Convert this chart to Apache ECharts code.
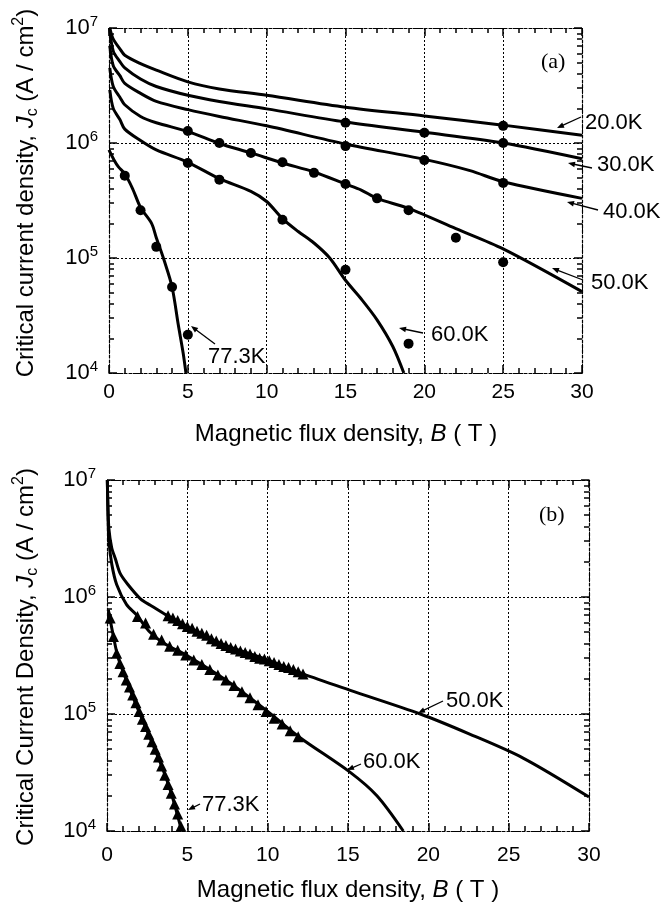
<!DOCTYPE html>
<html>
<head>
<meta charset="utf-8">
<script src="https://cdn.jsdelivr.net/npm/echarts@6/dist/echarts.min.js"></script>
<style>
  html, body { margin: 0; padding: 0; background: #fff; }
  #chart { width: 666px; height: 913px; }
</style>
</head>
<body>
<div id="chart"></div>
<script>
// axis ranges
const xMin = 0, xMax = 30, xStep = 5;
const yMin = 1e4, yMax = 1e7;

// panel (a): fitted curves, [B (T), Jc (A/cm2)]
const a20 = [[0.05, 1e7], [0.27, 8.0e6], [0.69, 6.6e6], [1, 5.8e6], [2, 4.9e6], [3, 4.3e6], [5, 3.4e6], [7, 2.95e6],
             [10, 2.6e6], [15, 2.05e6], [20, 1.72e6], [25, 1.43e6], [30, 1.17e6]];
const a30 = [[0.03, 1e7], [0.27, 6.3e6], [0.69, 5.1e6], [1, 4.5e6], [2, 3.6e6], [3, 3.1e6], [5, 2.6e6], [7, 2.3e6],
             [10, 1.98e6], [15, 1.52e6], [20, 1.24e6], [25, 1.0e6], [30, 7.3e5]];
const a40 = [[0.05, 7e6], [0.27, 4.7e6], [0.69, 3.85e6], [1, 3.3e6], [2, 2.7e6], [3, 2.3e6], [5, 1.95e6], [7, 1.7e6],
             [10, 1.41e6], [15, 9.8e5], [20, 7.2e5], [22.9, 5.75e5], [25, 4.6e5], [30, 3.3e5]];
const a50 = [[0.05, 4.5e6], [0.27, 3.1e6], [0.69, 2.5e6], [1, 2.15e6], [2, 1.7e6], [3, 1.5e6], [5, 1.26e6], [7, 9.9e5],
             [9, 8.2e5], [11, 6.7e5], [13, 5.6e5], [15, 4.4e5], [16, 3.9e5], [17, 3.3e5], [19, 2.7e5], [22, 1.8e5],
             [25, 1.2e5], [30, 5.1e4]];
const a60 = [[0.05, 2.9e6], [0.27, 2.0e6], [0.69, 1.6e6], [1, 1.32e6], [2, 1.05e6], [3, 8.7e5], [5, 6.8e5], [7, 4.9e5],
             [9, 3.8e5], [10, 3.1e5], [11, 2.2e5], [12, 1.7e5], [13, 1.35e5], [14, 1.0e5], [15, 6.4e4], [16, 4.4e4],
             [17, 2.9e4], [18, 1.7e4], [18.7, 1.0e4]];
const a77 = [[0, 8.7e5], [0.3, 7.2e5], [0.6, 6.2e5], [1, 5.4e5], [1.5, 4.0e5], [2, 2.75e5], [2.7, 2.0e5], [3, 1.5e5],
             [3.5, 9.5e4], [4, 5.6e4], [4.4, 2.6e4], [4.7, 1.5e4], [4.88, 1.0e4]];

// panel (a): measured points
const a20Pts = [[25, 1.41e6]];
const a30Pts = [[15, 1.5e6], [20, 1.23e6], [25, 1.0e6]];
const a40Pts = [[15, 9.4e5], [20, 7.1e5], [25, 4.5e5]];
const a50Pts = [[5, 1.27e6], [7, 1.0e6], [9, 8.2e5], [11, 6.8e5], [13, 5.5e5], [15, 4.4e5], [17, 3.3e5],
                [19, 2.6e5], [22, 1.5e5], [25, 9.2e4]];
const a60Pts = [[5, 6.7e5], [7, 4.8e5], [11, 2.15e5], [15, 7.9e4], [19, 1.8e4]];
const a77Pts = [[1, 5.2e5], [2, 2.6e5], [3, 1.25e5], [4, 5.6e4], [5, 2.15e4]];

// panel (b): fitted curves
const b50 = [[0.02, 1e7], [0.06, 6e6], [0.12, 3.8e6], [0.29, 2.65e6], [0.53, 2.1e6], [0.81, 1.6e6], [1.3, 1.28e6],
             [2.1, 9.6e5], [2.7, 8.5e5], [3.7, 7.0e5], [5, 5.6e5], [7.1, 4.0e5], [10, 2.9e5], [12.2, 2.2e5],
             [15.1, 1.6e5], [19.5, 1.0e5], [22.5, 6.8e4], [25.9, 4.2e4], [30, 1.95e4]];
const b60 = [[0.02, 1e7], [0.06, 5e6], [0.12, 3.0e6], [0.3, 1.9e6], [0.6, 1.28e6], [1.22, 8.6e5], [1.85, 7.0e5],
             [2.68, 5.0e5], [3.7, 3.9e5], [5, 3.15e5], [7.4, 1.95e5], [10, 1.05e5], [12, 6.3e4], [15.1, 3.2e4],
             [16.8, 2.0e4], [18.44, 1.0e4]];
const b77 = [[0.08, 7.8e5], [0.4, 4.6e5], [0.7, 3.0e5], [1.3, 1.8e5], [2.05, 1.0e5], [3.4, 3.6e4], [4.0, 2.1e4],
             [4.65, 1.0e4]];

// panel (b): measured points
const b50Pts = [[3.8, 6.9e5], [4.1, 6.6e5], [4.4, 6.3e5], [4.7, 5.9e5], [5.0, 5.6e5], [5.3, 5.4e5], [5.6, 5.1e5],
                [5.9, 4.9e5], [6.2, 4.7e5], [6.5, 4.4e5], [6.8, 4.2e5], [7.1, 4.0e5], [7.4, 3.85e5], [7.7, 3.7e5],
                [8.0, 3.6e5], [8.3, 3.45e5], [8.6, 3.35e5], [8.9, 3.25e5], [9.2, 3.1e5], [9.5, 3.0e5], [9.8, 2.95e5],
                [10.1, 2.85e5], [10.4, 2.75e5], [10.7, 2.65e5], [11.0, 2.55e5], [11.3, 2.5e5], [11.6, 2.4e5],
                [11.9, 2.3e5], [12.2, 2.2e5]];
const b60Pts = [[1.9, 6.8e5], [2.4, 6.0e5], [2.9, 4.8e5], [3.4, 4.3e5], [3.9, 3.8e5], [4.4, 3.5e5], [4.9, 3.2e5],
                [5.4, 2.9e5], [5.9, 2.65e5], [6.4, 2.4e5], [6.9, 2.15e5], [7.4, 1.95e5], [7.9, 1.75e5], [8.4, 1.55e5],
                [8.9, 1.38e5], [9.4, 1.2e5], [9.9, 1.05e5], [10.4, 9.2e4], [10.9, 8.2e4], [11.4, 7.2e4], [11.9, 6.4e4]];
const b77Pts = [[0.2, 6.6e5], [0.4, 4.6e5], [0.6, 3.3e5], [0.8, 2.7e5], [1.0, 2.3e5], [1.2, 1.95e5], [1.4, 1.7e5],
                [1.6, 1.45e5], [1.8, 1.25e5], [2.0, 1.05e5], [2.2, 9.0e4], [2.4, 7.8e4], [2.6, 6.7e4], [2.8, 5.8e4],
                [3.0, 5.0e4], [3.2, 4.3e4], [3.4, 3.6e4], [3.6, 3.0e4], [3.8, 2.5e4], [4.0, 2.1e4], [4.2, 1.7e4],
                [4.4, 1.4e4], [4.6, 1.1e4]];

const FONT = "'Liberation Sans', Arial, Helvetica, sans-serif";
const SERIF = "'Liberation Serif', 'Times New Roman', serif";
const chart = echarts.init(document.getElementById('chart'));

const frame = { color: '#000', width: 1.2, type: [3, 2] };
const dotted = { color: '#000', width: 1, type: [2, 2] };
const majorTick = { show: true, inside: true, length: 8, lineStyle: { color: '#000', width: 1.5 } };

function xAxes(gi, margin) {
  const common = {
    type: 'value', gridIndex: gi, min: xMin, max: xMax, interval: xStep,
    axisLine: { show: true, onZero: false, lineStyle: frame },
    axisTick: majorTick,
    minorTick: { show: true, splitNumber: 5, length: 5, lineStyle: { color: '#000', width: 1.5 } }
  };
  return [
    Object.assign({}, common, {
      position: 'bottom',
      axisLabel: { show: true, color: '#000', fontSize: 21, fontFamily: FONT, margin: margin },
      splitLine: { show: true, lineStyle: dotted }
    }),
    Object.assign({}, common, { position: 'top', axisLabel: { show: false }, splitLine: { show: false } })
  ];
}

function yAxes(gi) {
  // minor ticks split each decade into nine equal value steps: 2, 3, ... 9
  const base = {
    type: 'log', logBase: 10, gridIndex: gi, min: yMin, max: yMax,
    axisLine: { show: true, onZero: false, lineStyle: frame },
    axisTick: majorTick,
    minorTick: { show: true, splitNumber: 9, length: 5, lineStyle: { color: '#000', width: 1.5 } },
    axisLabel: { show: false }, splitLine: { show: false }
  };
  return [
    Object.assign({}, base, {
      position: 'left',
      axisLabel: {
        show: true, margin: 11, color: '#000', padding: [0, 0, 3, 0],
        formatter: v => '{b|10}{s|' + Math.round(Math.log10(v)) + '}',
        rich: {
          b: { fontSize: 22, fontFamily: FONT, color: '#000', lineHeight: 24, verticalAlign: 'bottom' },
          s: { fontSize: 15, fontFamily: FONT, color: '#000', lineHeight: 15, verticalAlign: 'top' }
        }
      },
      splitLine: { show: true, lineStyle: dotted }
    }),
    Object.assign({}, base, { position: 'right' })
  ];
}

function curve(data, gi) {
  return {
    type: 'line', xAxisIndex: gi * 2, yAxisIndex: gi * 2, data: data,
    showSymbol: false, smooth: 0.3, clip: true, z: 3,
    lineStyle: { color: '#000', width: 3 }, silent: true
  };
}
function points(data, gi, symbol, size) {
  return {
    type: 'scatter', xAxisIndex: gi * 2, yAxisIndex: gi * 2, data: data,
    symbol: symbol, symbolSize: size, z: 4, itemStyle: { color: '#000', opacity: 1 }, silent: true
  };
}

function label(x, y, text) {
  return { type: 'text', x: x, y: y, z: 10,
    style: { text: text, fill: '#000', font: '22px ' + FONT, align: 'left', verticalAlign: 'middle' } };
}
function arrow(x1, y1, x2, y2) {
  const ang = Math.atan2(y2 - y1, x2 - x1), L = 7, w = 2.8;
  const c = Math.cos(ang), s = Math.sin(ang);
  return [
    { type: 'line', z: 10, shape: { x1: x1, y1: y1, x2: x2 - L * 0.7 * c, y2: y2 - L * 0.7 * s },
      style: { stroke: '#000', lineWidth: 1.3 } },
    { type: 'polygon', z: 10, shape: { points: [[x2, y2], [x2 - L * c + w * s, y2 - L * s - w * c],
      [x2 - L * c - w * s, y2 - L * s + w * c]] }, style: { fill: '#000' } }
  ];
}
function vTitle(x, y, main) {
  return { type: 'text', x: x, y: y, rotation: Math.PI / 2, z: 10,
    style: {
      text: '{n|' + main + '}{i|J}{sub|c}{n| (A / cm}{sup|2}{n|)}',
      align: 'center', verticalAlign: 'middle', fill: '#000',
      rich: {
        n: { fontSize: 24, fontFamily: FONT, lineHeight: 30, verticalAlign: 'middle', fill: '#000' },
        i: { fontSize: 24, fontFamily: FONT, fontStyle: 'italic', lineHeight: 30, verticalAlign: 'middle', fill: '#000' },
        sub: { fontSize: 16, fontFamily: FONT, lineHeight: 30, verticalAlign: 'bottom', fill: '#000' },
        sup: { fontSize: 16, fontFamily: FONT, lineHeight: 16, verticalAlign: 'top', fill: '#000' }
      }
    } };
}
function hTitle(x, y) {
  return { type: 'text', x: x, y: y, z: 10,
    style: {
      text: '{n|Magnetic flux density, }{i|B}{n| ( T )}',
      align: 'center', verticalAlign: 'middle', fill: '#000',
      rich: {
        n: { fontSize: 24, fontFamily: FONT, fill: '#000' },
        i: { fontSize: 24, fontFamily: FONT, fontStyle: 'italic', fill: '#000' }
      }
    } };
}

const graphics = [].concat(
  vTitle(26, 193, 'Critical current density, '),
  vTitle(26, 657, 'Critical Current Density, '),
  hTitle(346, 434), hTitle(348, 890),
  { type: 'text', x: 541, y: 62, z: 10, style: { text: '(a)', fill: '#000', font: '22px ' + SERIF, align: 'left', verticalAlign: 'middle' } },
  { type: 'text', x: 539, y: 515, z: 10, style: { text: '(b)', fill: '#000', font: '22px ' + SERIF, align: 'left', verticalAlign: 'middle' } },
  label(585, 123, '20.0K'), arrow(581, 117, 557, 128),
  label(597, 165, '30.0K'), arrow(592, 168, 568, 163),
  label(603, 212, '40.0K'), arrow(598, 210, 567, 202),
  label(591, 283, '50.0K'), arrow(583, 280, 552, 268),
  label(431, 335, '60.0K'), arrow(423, 333, 399, 328),
  label(208, 357, '77.3K'), arrow(215, 344, 191, 326),
  label(446, 701, '50.0K'), arrow(443, 701, 418, 713),
  label(363, 762, '60.0K'), arrow(361, 764, 347, 770),
  label(202, 805, '77.3K'), arrow(200, 804, 188, 810)
);

chart.setOption({
  animation: false,
  backgroundColor: '#fff',
  grid: [
    { left: 109, top: 28, width: 473, height: 345 },
    { left: 107, top: 480, width: 482, height: 351 }
  ],
  xAxis: xAxes(0, 9).concat(xAxes(1, 14)),
  yAxis: yAxes(0).concat(yAxes(1)),
  series: [
    curve(a20, 0), curve(a30, 0), curve(a40, 0), curve(a50, 0), curve(a60, 0), curve(a77, 0),
    points(a20Pts, 0, 'circle', 10), points(a30Pts, 0, 'circle', 10), points(a40Pts, 0, 'circle', 10),
    points(a50Pts, 0, 'circle', 10), points(a60Pts, 0, 'circle', 10), points(a77Pts, 0, 'circle', 10),
    curve(b50, 1), curve(b60, 1), curve(b77, 1),
    points(b50Pts, 1, 'triangle', 11), points(b60Pts, 1, 'triangle', 11), points(b77Pts, 1, 'triangle', 11)
  ],
  graphic: graphics
});
</script>
</body>
</html>
